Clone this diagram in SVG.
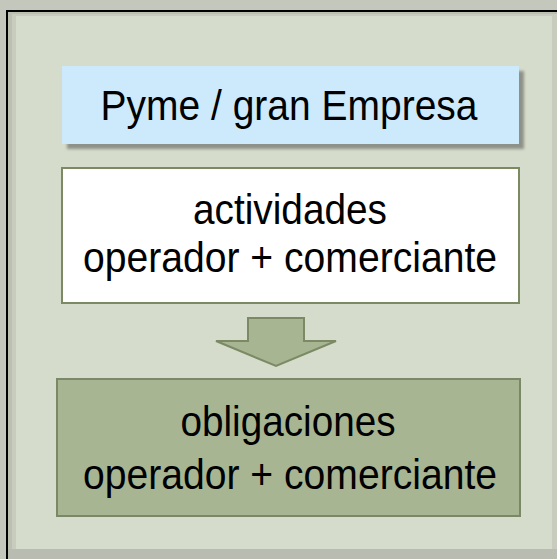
<svg xmlns="http://www.w3.org/2000/svg" width="557" height="559" viewBox="0 0 557 559">
<defs>
<style>
.t{font-family:"Liberation Sans",Arial,sans-serif;font-size:42px;fill:#000;text-anchor:middle}
</style>
<filter id="sh" x="-10%" y="-20%" width="130%" height="150%">
<feGaussianBlur stdDeviation="1.5"/>
</filter>
</defs>
<rect x="0" y="0" width="557" height="559" fill="#c4c8bc"/>
<rect x="8" y="12" width="549" height="547" fill="#bcc0b3"/>
<rect x="12" y="14" width="545" height="545" fill="#c8ccbf"/>
<rect x="16" y="16" width="536" height="533" fill="#d6dccb"/>
<rect x="8" y="549" width="549" height="10" fill="#b9bdb1"/>
<line x1="7" y1="11" x2="7" y2="559" stroke="#000" stroke-width="2"/>
<line x1="6" y1="11" x2="557" y2="11" stroke="#000" stroke-width="2"/>
<g id="pyme">
<rect x="67" y="71" width="457" height="78" fill="#8e9188" filter="url(#sh)"/>
<rect x="62" y="66" width="457" height="78" fill="#cdeafc"/>
<text class="t" x="289" y="120" textLength="377" lengthAdjust="spacingAndGlyphs">Pyme / gran Empresa</text>
</g>
<g id="actividades">
<rect x="62" y="168" width="457" height="135" fill="#fff" stroke="#7b8a62" stroke-width="2"/>
<text class="t" x="290" y="224" textLength="194" lengthAdjust="spacingAndGlyphs">actividades</text>
<text class="t" x="290" y="272" textLength="414" lengthAdjust="spacingAndGlyphs">operador + comerciante</text>
</g>
<g id="connectors">
<polygon points="248,318 304,318 304,341 336,341 276,366 216,341 248,341" fill="#a7b592" stroke="#7b8a64" stroke-width="2" stroke-linejoin="miter"/>
</g>
<g id="obligaciones">
<rect x="57" y="379" width="463" height="137" fill="#a7b592" stroke="#7a8866" stroke-width="2"/>
<text class="t" x="288" y="436" textLength="215" lengthAdjust="spacingAndGlyphs">obligaciones</text>
<text class="t" x="290" y="489" textLength="414" lengthAdjust="spacingAndGlyphs">operador + comerciante</text>
</g>
</svg>
